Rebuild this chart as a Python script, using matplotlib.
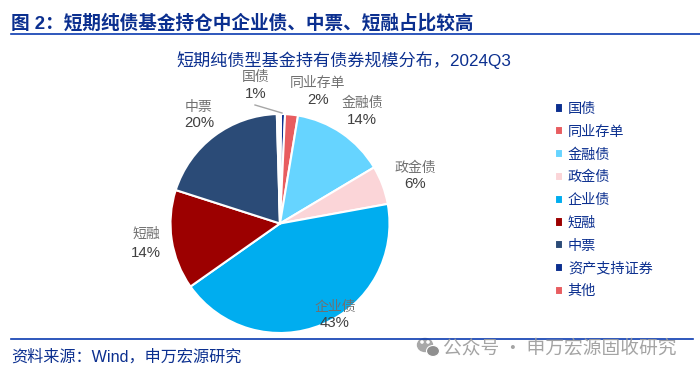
import matplotlib
matplotlib.use("Agg")
import matplotlib.pyplot as plt
from matplotlib.patches import Ellipse

plt.rcParams['font.family'] = ['Noto Sans CJK SC', 'DejaVu Sans']

W, H = 700, 374

categories = ["国债", "同业存单", "金融债", "政金债", "企业债", "短融", "中票", "资产支持证券", "其他"]
values = [0.6, 1.9, 13.8, 5.7, 43.1, 14.7, 19.6, 0.3, 0.3]
pct_labels = ["1%", "2%", "14%", "6%", "43%", "14%", "20%", None, None]
colors = ["#0b2f8f", "#e85d60", "#66d4ff", "#fbd5d8", "#00adef", "#9c0000", "#2b4b77", "#0b2f8f", "#e85d60"]

title = "图 2：短期纯债基金持仓中企业债、中票、短融占比较高"
chart_title = "短期纯债型基金持有债券规模分布，2024Q3"
source = "资料来源：Wind，申万宏源研究"
watermark = "公众号 · 申万宏源固收研究"

BLUE = "#0b2f8f"
LATIN_CJK = ['Liberation Sans', 'Noto Sans CJK SC']


def px(x, y):
    return x / W, 1 - y / H


def main():
    fig = plt.figure(figsize=(7, 3.74), dpi=100)

    # pie sits in its own axes, placed by pixel box
    cx, cy, r = 280, 223.5, 109.5
    ax = fig.add_axes([(cx - r) / W, 1 - (cy + r) / H, 2 * r / W, 2 * r / H])
    wedges, _ = ax.pie(values, colors=colors, startangle=89.5, counterclock=False,
                       radius=1, wedgeprops=dict(edgecolor="white", linewidth=1.5))
    ax.set_xlim(-1, 1)
    ax.set_ylim(-1, 1)
    ax.set_aspect("equal")

    # label centres in pixels: x, name y, percent y
    label_pos = {
        "国债": (256, 77, 94), "同业存单": (318, 83, 100), "金融债": (362, 103, 120),
        "政金债": (415, 168, 184), "企业债": (335, 307, 323), "短融": (146, 234, 253),
        "中票": (199, 107, 123),
    }
    for cat, pct in zip(categories, pct_labels):
        if pct is None:
            continue
        x, y1, y2 = label_pos[cat]
        fig.text(*px(x, y1), cat, color="#707070", fontsize=10, ha="center", va="center")
        fig.text(*px(x, y2), pct, color="#404040", fontsize=10.8, ha="center", va="center",
                 family="Liberation Sans")
    # leader line for 国债
    fig.add_artist(plt.Line2D([255 / W, 282 / W], [1 - 105 / H, 1 - 113 / H], color="#a6a6a6", lw=1))

    fig.text(*px(11, 23), title, color=BLUE, fontsize=13.4, fontweight="bold", va="center", family=LATIN_CJK)
    fig.text(*px(344, 60), chart_title, color=BLUE, fontsize=12.3, ha="center", va="center", family=LATIN_CJK)
    fig.add_artist(plt.Line2D([11 / W, 1], [1 - 34 / H] * 2, color="#0b3bb0", lw=1.2))
    fig.add_artist(plt.Line2D([11 / W, 693 / W], [1 - 338.5 / H] * 2, color="#0b3bb0", lw=1.2))
    fig.text(*px(11, 357), source, color=BLUE, fontsize=11.6, va="center", family=LATIN_CJK)

    # legend handles copy the wedge's white edge, so they are drawn a bit larger
    fig.legend(wedges, categories, loc="upper left", bbox_to_anchor=px(554.5, 102), frameon=False,
               fontsize=10.2, labelcolor=BLUE, handlelength=0.62, handleheight=0.62,
               handletextpad=0.32, labelspacing=0.62, borderpad=0, borderaxespad=0)

    # watermark
    fig.text(*px(443, 348), watermark, color="#9a9a9a", fontsize=13.5, va="center", alpha=0.9)
    icon = fig.add_axes([0, 0, 1, 1], facecolor="none")
    icon.set_xlim(0, W)
    icon.set_ylim(H, 0)
    icon.axis("off")
    icon.add_patch(Ellipse((425, 345), 15, 13, color="#a8a8a8"))
    icon.add_patch(Ellipse((433, 351), 13, 11, color="#8f8f8f", ec="white", lw=0.8))
    for ex, ey in [(422, 342), (428, 342)]:
        icon.add_patch(Ellipse((ex, ey), 2.2, 2.2, color="white"))

    fig.savefig("out.png", dpi=100)


if __name__ == "__main__":
    main()
